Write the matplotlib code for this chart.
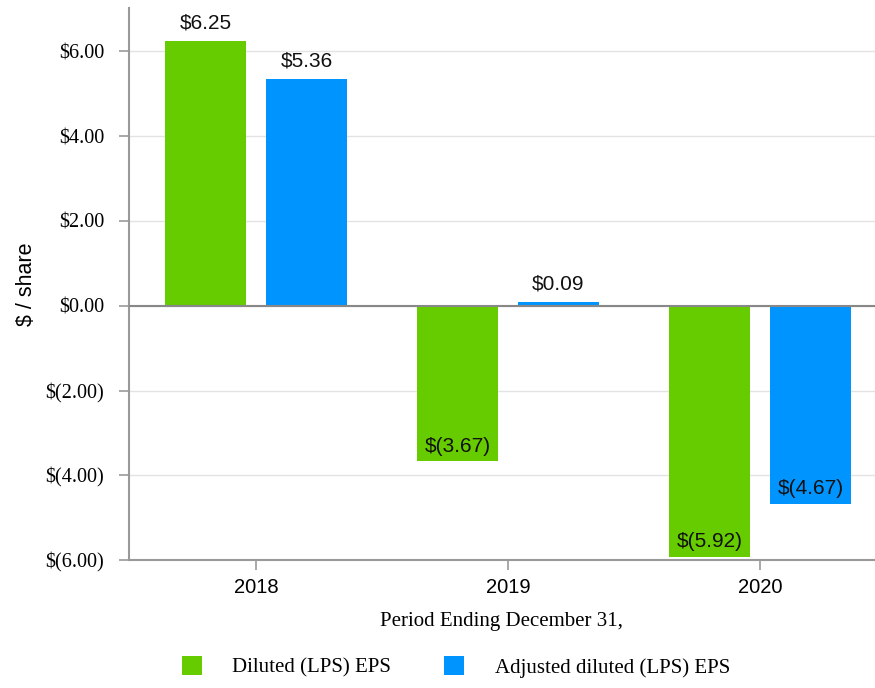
import matplotlib.pyplot as plt
import numpy as np

years = ['2018', '2019', '2020']
diluted_eps = [6.25, -3.67, -5.92]
adjusted_eps = [5.36, 0.09, -4.67]
series_names = ['Diluted (LPS) EPS', 'Adjusted diluted (LPS) EPS']
y_ticks = [-6, -4, -2, 0, 2, 4, 6]

green = '#66cc00'
blue = '#0094ff'
serif = 'Liberation Serif'
sans = 'Liberation Sans'


def money(v, decimals=2):
    if v < 0:
        return f'$({abs(v):.{decimals}f})'
    return f'${v:.{decimals}f}'


fig = plt.figure(figsize=(8.75, 6.88), dpi=100)
ax = fig.add_axes([0.1474, 0.186, 0.8526, 0.802])

x = np.arange(len(years))
width = 0.32
offset = 0.2
bars1 = ax.bar(x - offset, diluted_eps, width, color=green, zorder=2, label=series_names[0])
bars2 = ax.bar(x + offset, adjusted_eps, width, color=blue, zorder=2, label=series_names[1])

for bars in (bars1, bars2):
    for b in bars:
        v = b.get_height()
        cx = b.get_x() + b.get_width() / 2
        # positive values sit above the bar, negative ones inside near the bar end
        dy = 6 if v >= 0 else 4
        ax.annotate(money(v), (cx, v), xytext=(0, dy), textcoords='offset points',
                    ha='center', va='bottom', fontsize=15, family=sans, color='#111111')

ax.set_ylim(-6.0, 7.02)
ax.set_xlim(-0.504, 2.456)
ax.set_yticks(y_ticks)
ax.set_yticklabels([money(t) for t in y_ticks], family=serif, fontsize=14.6)
ax.set_xticks(x)
ax.set_xticklabels(years, family=sans, fontsize=14.5)

ax.yaxis.grid(True, color='#e3e3e3', linewidth=1, zorder=0)
ax.axhline(0, color='#888888', linewidth=1.5, zorder=3)

for s in ['top', 'right']:
    ax.spines[s].set_visible(False)
ax.spines['left'].set_color('#999999')
ax.spines['left'].set_linewidth(1.5)
ax.spines['bottom'].set_color('#999999')
ax.spines['bottom'].set_linewidth(1.5)
ax.tick_params(axis='both', color='#999999', width=1.2, length=7)
ax.tick_params(axis='x', pad=6)
ax.tick_params(axis='y', pad=11)

ax.set_ylabel('$ / share', family=sans, fontsize=15.5, labelpad=6)
ax.set_xlabel('Period Ending December 31,', family=serif, fontsize=15, labelpad=11)

fig.legend(handles=[bars1, bars2], labels=series_names, loc='center',
           bbox_to_anchor=(456 / 875, 1 - 667 / 688), ncol=2, frameon=False,
           prop={'family': serif, 'size': 15}, handlelength=0.96, handleheight=0.96,
           handletextpad=1.45, columnspacing=2.55)

fig.savefig('out.png', dpi=100)
